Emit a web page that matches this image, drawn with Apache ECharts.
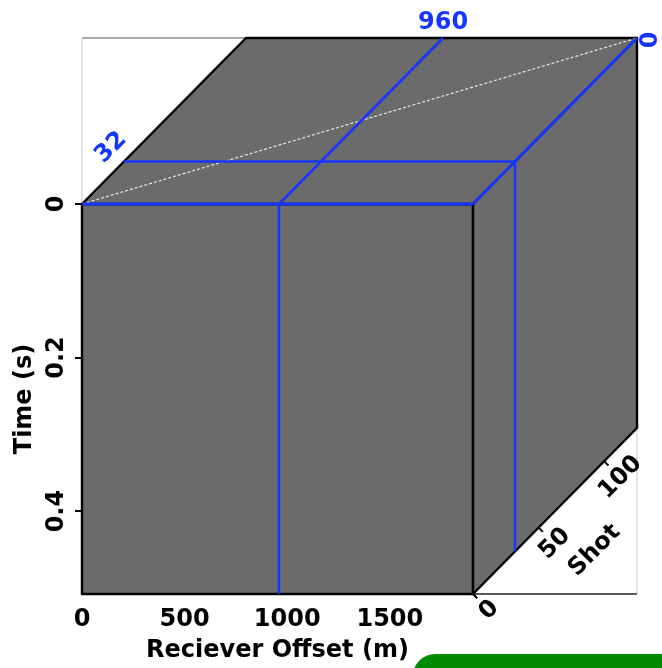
<!DOCTYPE html>
<html>
<head>
<meta charset="utf-8">
<script src="https://cdn.jsdelivr.net/npm/echarts@6/dist/echarts.min.js"></script>
<style>
  html, body { margin: 0; padding: 0; background: #fff; }
  #c { width: 662px; height: 668px; }
</style>
</head>
<body>
<div id="c"></div>
<script>
// Extents of the data cube
const offsetRange = [0, 1905];   // receiver offset (m)
const timeRange = [0, 0.508];    // time (s)
const shotRange = [0, 125];      // shot number

// Tick values along each axis
const offsetTicks = [0, 500, 1000, 1500];
const timeTicks = [0, 0.2, 0.4];
const shotTicks = [0, 50, 100];

// Positions of the three displayed slices
const sliceOffset = 960;
const sliceShot = 32;
const sliceTime = 0;

const FONT = 'DejaVu Sans';
const WEIGHT = 'bold';
const BLUE = '#1636ff';
const FACE = '#6b6b6b';

const chart = echarts.init(document.getElementById('c'), null, { renderer: 'canvas' });

const labelStyle = { color: '#000', fontFamily: FONT, fontWeight: WEIGHT, fontSize: 24 };

// Grid 0 carries the front face (offset x time); grid 1 is a hidden
// shot-by-shot grid whose two axes give the oblique depth direction.
chart.setOption({
  animation: false,
  backgroundColor: '#fff',
  grid: [
    { left: 82, top: 204, width: 391, height: 390 },
    { left: 473, top: 38, width: 164, height: 166, show: false }
  ],
  xAxis: [
    {
      gridIndex: 0, type: 'value',
      min: offsetRange[0], max: offsetRange[1], interval: 500,
      name: 'Reciever Offset (m)', nameLocation: 'middle', nameGap: 45,
      nameTextStyle: labelStyle,
      axisLine: { show: false },
      splitLine: { show: false },
      axisTick: { show: true, length: 7, lineStyle: { color: '#000', width: 2 }, customValues: offsetTicks },
      axisLabel: Object.assign({ customValues: offsetTicks, margin: 14, formatter: v => String(v) }, labelStyle)
    },
    { gridIndex: 1, type: 'value', min: shotRange[0], max: shotRange[1], show: false }
  ],
  yAxis: [
    {
      gridIndex: 0, type: 'value', inverse: true,
      min: timeRange[0], max: timeRange[1], interval: 0.2,
      name: 'Time (s)', nameLocation: 'middle', nameGap: 43, nameRotate: 90,
      nameTextStyle: labelStyle,
      axisLine: { show: false },
      splitLine: { show: false },
      axisTick: { show: true, length: 7, lineStyle: { color: '#000', width: 2 }, customValues: timeTicks },
      axisLabel: Object.assign({ customValues: timeTicks, rotate: 90, margin: 13, formatter: v => String(v) }, labelStyle)
    },
    { gridIndex: 1, type: 'value', min: shotRange[0], max: shotRange[1], show: false }
  ],
  graphic: [{
    type: 'rect', left: 413, top: 654, z: 10,
    shape: { width: 270, height: 30, r: [22, 0, 0, 0] },
    style: { fill: '#008a00' }
  }]
});

// Pixel shift produced by moving `s` shots into the cube
const origin = chart.convertToPixel({ gridIndex: 1 }, [shotRange[0], shotRange[0]]);
function depth(s) {
  const p = chart.convertToPixel({ gridIndex: 1 }, [s, s]);
  return [p[0] - origin[0], p[1] - origin[1]];
}

function renderCube(params, api) {
  const P = (off, t, s) => {
    const a = api.coord([off, t]);
    const d = depth(s);
    return [a[0] + d[0], a[1] + d[1]];
  };
  const o0 = offsetRange[0], o1 = offsetRange[1];
  const t0 = timeRange[0], t1 = timeRange[1];
  const s0 = shotRange[0], s1 = shotRange[1];

  const F00 = P(o0, t0, s0), F10 = P(o1, t0, s0), F11 = P(o1, t1, s0), F01 = P(o0, t1, s0);
  const B00 = P(o0, t0, s1), B10 = P(o1, t0, s1), B11 = P(o1, t1, s1);

  const line = (a, b, stroke, w, dash) => ({
    type: 'line', shape: { x1: a[0], y1: a[1], x2: b[0], y2: b[1] },
    style: { stroke, lineWidth: w, lineDash: dash || null }
  });
  const face = pts => ({
    type: 'polygon', shape: { points: pts },
    style: { fill: FACE, stroke: '#000', lineWidth: 2.4, lineJoin: 'round' }
  });
  const text = (str, pos, rot, color, align, vAlign) => ({
    type: 'text', x: pos[0], y: pos[1], rotation: rot,
    style: { text: str, fill: color, fontFamily: FONT, fontWeight: WEIGHT, fontSize: 24,
             align: align || 'center', verticalAlign: vAlign || 'middle' }
  });

  const left = F00[0], right = B10[0], top = B00[1], bottom = F01[1];
  const children = [
    // bounding frame
    line([left, top], [right, top], '#555', 1),
    line([left, top], [left, bottom], '#c8c8c8', 1),
    line([right, top], [right, bottom], '#c8c8c8', 1),
    line([left, bottom], [right, bottom], '#222', 1.5),
    // faces
    face([F00, F10, F11, F01]),
    face([F00, F10, B10, B00]),
    face([F10, B10, B11, F11]),
    // diagonal guide on the top face
    line(F00, B10, '#e6e6e6', 1.2, [3, 2])
  ];

  // time slice
  children.push(line(P(o0, sliceTime, s0), P(o1, sliceTime, s0), BLUE, 3));
  children.push(line(P(o1, sliceTime, s0), P(o1, sliceTime, s1), BLUE, 3));
  // offset slice
  children.push(line(P(sliceOffset, t0, s0), P(sliceOffset, t1, s0), BLUE, 2.5));
  children.push(line(P(sliceOffset, t0, s0), P(sliceOffset, t0, s1), BLUE, 2.5));
  // shot slice
  children.push(line(P(o0, t0, sliceShot), P(o1, t0, sliceShot), BLUE, 2.5));
  children.push(line(P(o1, t0, sliceShot), P(o1, t1, sliceShot), BLUE, 2.5));

  // slice position labels
  const pOff = P(sliceOffset, t0, s1);
  children.push(text(String(sliceOffset), [pOff[0], pOff[1] - 3], 0, BLUE, 'center', 'bottom'));
  const pShot = P(o0, t0, sliceShot);
  children.push(text(String(sliceShot), [pShot[0] - 13, pShot[1] - 14], Math.PI / 4, BLUE));
  children.push(text(String(sliceTime), [B10[0] + 14, B10[1] + 2], Math.PI / 2, BLUE));

  // oblique shot axis along the lower right edge
  const n = [Math.SQRT1_2, Math.SQRT1_2];
  shotTicks.forEach(s => {
    const q = P(o1, t1, s);
    children.push(line(q, [q[0] + n[0] * 6, q[1] + n[1] * 6], '#000', 2));
    children.push(text(String(s), [q[0] + n[0] * 11, q[1] + n[1] * 11], Math.PI / 4, '#000', 'center', 'top'));
  });
  const qm = P(o1, t1, (s0 + s1) / 2);
  children.push(text('Shot', [qm[0] + n[0] * 56, qm[1] + n[1] * 56], Math.PI / 4, '#000'));

  return { type: 'group', children };
}

chart.setOption({
  series: [{
    type: 'custom',
    coordinateSystem: 'cartesian2d',
    xAxisIndex: 0, yAxisIndex: 0,
    clip: false, silent: true,
    data: [[offsetRange[0], timeRange[0]]],
    renderItem: renderCube
  }]
});
</script>
</body>
</html>
